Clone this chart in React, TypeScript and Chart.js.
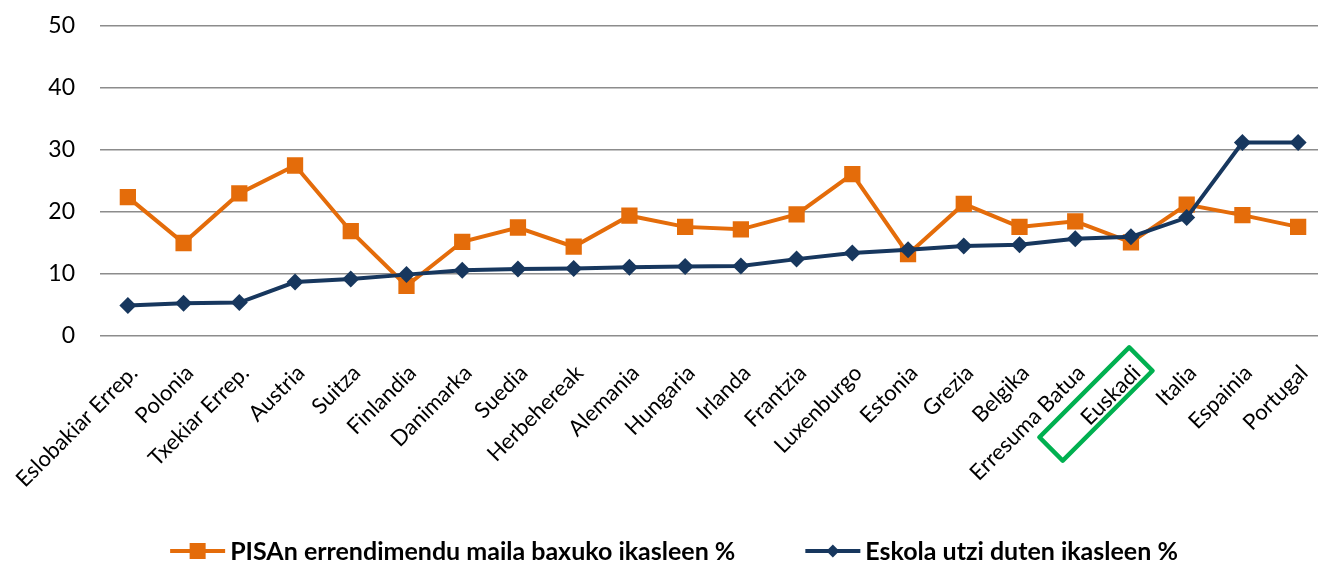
import { useEffect, useRef } from 'react';
import { Chart, registerables } from 'chart.js';

Chart.register(...registerables);

const categories = [
  'Eslobakiar Errep.', 'Polonia', 'Txekiar Errep.', 'Austria', 'Suitza', 'Finlandia',
  'Danimarka', 'Suedia', 'Herbehereak', 'Alemania', 'Hungaria', 'Irlanda', 'Frantzia',
  'Luxenburgo', 'Estonia', 'Grezia', 'Belgika', 'Erresuma Batua', 'Euskadi', 'Italia',
  'Espainia', 'Portugal',
];

const pisaLowPerformers = [
  22.4, 15.0, 23.0, 27.5, 16.9, 8.1, 15.2, 17.5, 14.4, 19.4, 17.6, 17.2, 19.6, 26.1,
  13.2, 21.3, 17.6, 18.5, 15.1, 21.2, 19.5, 17.6,
];

const earlyLeavers = [
  4.9, 5.3, 5.4, 8.7, 9.2, 9.9, 10.6, 10.8, 10.9, 11.1, 11.2, 11.3, 12.4, 13.4,
  13.9, 14.5, 14.7, 15.7, 16.0, 19.1, 31.2, 31.2,
];

const seriesNames = ['PISAn errendimendu maila baxuko ikasleen %', 'Eskola utzi duten ikasleen %'];
const yTicks = [0, 10, 20, 30, 40, 50];
const highlighted = 'Euskadi';

const ORANGE = '#e46c0a';
const NAVY = '#17375e';
const GREEN = '#00b050';
const FONT = 'Lato, "Open Sans", sans-serif';

const W = 1340;
const H = 561;

const overlay = {
  id: 'overlay',
  afterDraw(chart: any) {
    const ctx = chart.ctx as CanvasRenderingContext2D;
    const xs = chart.scales.x;
    // highlight box around the Euskadi label
    const idx = categories.indexOf(highlighted);
    const px = xs.getPixelForValue(idx);
    const py = xs.top;
    ctx.save();
    ctx.translate(px - 35, py + 68);
    ctx.rotate(-Math.PI / 4);
    ctx.strokeStyle = GREEN;
    ctx.lineWidth = 4.5;
    ctx.lineJoin = 'round';
    ctx.strokeRect(-63.5, -16.5, 127, 33);
    ctx.restore();

    // legend
    ctx.save();
    ctx.font = `bold 25px ${FONT}`;
    ctx.textBaseline = 'middle';
    ctx.fillStyle = '#000';
    const markerW = 55;
    const gapText = 5;
    const gapItems = 70;
    const w1 = ctx.measureText(seriesNames[0]).width;
    const w2 = ctx.measureText(seriesNames[1]).width;
    const total = markerW + gapText + w1 + gapItems + markerW + gapText + w2;
    const cx = 674;
    const ly = 551;
    let x = cx - total / 2;
    // item 1
    ctx.strokeStyle = ORANGE;
    ctx.lineWidth = 4;
    ctx.beginPath();
    ctx.moveTo(x, ly);
    ctx.lineTo(x + markerW, ly);
    ctx.stroke();
    ctx.fillStyle = ORANGE;
    ctx.fillRect(x + markerW / 2 - 8, ly - 8, 16, 16);
    ctx.fillStyle = '#000';
    ctx.fillText(seriesNames[0], x + markerW + gapText, ly + 1);
    x += markerW + gapText + w1 + gapItems;
    // item 2
    ctx.strokeStyle = NAVY;
    ctx.beginPath();
    ctx.moveTo(x, ly);
    ctx.lineTo(x + markerW, ly);
    ctx.stroke();
    ctx.fillStyle = NAVY;
    const dx = x + markerW / 2;
    ctx.beginPath();
    ctx.moveTo(dx, ly - 6.5);
    ctx.lineTo(dx + 6.5, ly);
    ctx.lineTo(dx, ly + 6.5);
    ctx.lineTo(dx - 6.5, ly);
    ctx.closePath();
    ctx.fill();
    ctx.fillStyle = '#000';
    ctx.fillText(seriesNames[1], x + markerW + gapText, ly + 1);
    ctx.restore();
  },
};

export default function App() {
  const ref = useRef<HTMLCanvasElement>(null);
  useEffect(() => {
    document.body.style.margin = '0';
    document.body.style.overflow = 'hidden';
    document.documentElement.style.overflow = 'hidden';
    const chart = new Chart(ref.current as HTMLCanvasElement, {
      type: 'line',
      data: {
        labels: categories,
        datasets: [
          {
            label: seriesNames[0],
            data: pisaLowPerformers,
            borderColor: ORANGE,
            backgroundColor: ORANGE,
            borderWidth: 4,
            pointStyle: 'rect',
            pointRadius: 11.5,
            pointBorderWidth: 0,
            pointBackgroundColor: ORANGE,
            tension: 0,
            order: 2,
          },
          {
            label: seriesNames[1],
            data: earlyLeavers,
            borderColor: NAVY,
            backgroundColor: NAVY,
            borderWidth: 4,
            pointStyle: 'rectRot',
            pointRadius: 8.5,
            pointBorderWidth: 0,
            pointBackgroundColor: NAVY,
            tension: 0,
            order: 1,
          },
        ],
      },
      options: {
        animation: false,
        responsive: false,
        devicePixelRatio: 1,
        layout: { autoPadding: false, padding: { top: 26, right: 14, left: 0, bottom: 0 } },
        plugins: { legend: { display: false }, tooltip: { enabled: false } },
        scales: {
          x: {
            offset: true,
            grid: { display: false, drawTicks: false },
            border: { display: false },
            ticks: {
              autoSkip: false,
              minRotation: 45,
              maxRotation: 45,
              padding: 24,
              labelOffset: 6,
              color: '#000',
              font: { family: FONT, size: 22 },
            },
            afterFit: (s: any) => {
              s.height = H - 336;
              s.paddingLeft = 0;
              s.paddingRight = 0;
            },
          },
          y: {
            min: 0,
            max: 50,
            afterBuildTicks: (s: any) => {
              s.ticks = yTicks.map((v) => ({ value: v }));
            },
            ticks: {
              padding: 25,
              color: '#000',
              font: { family: FONT, size: 23 },
            },
            grid: { color: '#8c8c8c', lineWidth: 1.5, drawTicks: false },
            border: { display: false },
            afterFit: (s: any) => {
              s.width = 100;
              s.paddingTop = 0;
              s.paddingBottom = 0;
            },
          },
        },
      },
      plugins: [overlay],
    });
    return () => chart.destroy();
  }, []);
  return (
    <div style={{ position: 'fixed', left: 0, top: 0, width: W, height: H }}>
      <canvas ref={ref} width={W} height={H} style={{ display: 'block', width: W, height: H }} />
    </div>
  );
}
